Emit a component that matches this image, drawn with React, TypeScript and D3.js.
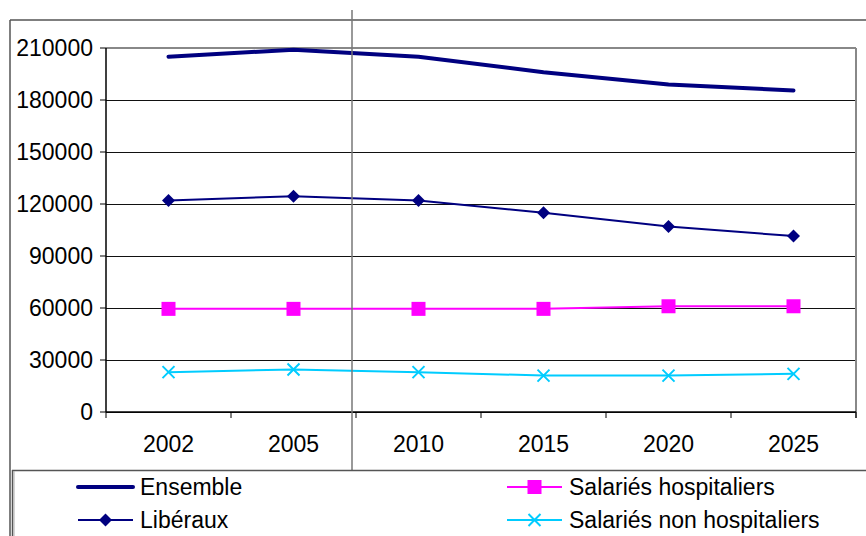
import React from "react";
import * as d3 from "d3";

const years = ["2002", "2005", "2010", "2015", "2020", "2025"];
const ensemble = [205000, 209000, 205000, 196000, 189000, 185500];
const liberaux = [122000, 124500, 122000, 115000, 107000, 101500];
const salariesHosp = [59500, 59500, 59500, 59500, 61000, 61000];
const salariesNonHosp = [23000, 24500, 23000, 21000, 21000, 22000];
const yTicks = [0, 30000, 60000, 90000, 120000, 150000, 180000, 210000];

const W = 866, H = 536;
const left = 106, right = 856, top = 48, bottom = 412;
const FONT = "'Liberation Sans', Arial, sans-serif";
const FS = 23;

export default function App() {
  const x = d3.scaleBand<string>().domain(years).range([left, right]).padding(0);
  const y = d3.scaleLinear().domain([0, 210000]).range([bottom, top]);
  const cx = (d: string) => (x(d) as number) + x.bandwidth() / 2;
  const line = d3.line<number>().x((_, i) => cx(years[i])).y((v) => y(v));

  const navy = "#000080";
  const magenta = "#FF00FF";
  const cyan = "#00CCFF";

  const diamond = (px: number, py: number, s = 6.5) =>
    `M${px},${py - s}L${px + s},${py}L${px},${py + s}L${px - s},${py}Z`;
  const cross = (px: number, py: number, s = 6) =>
    `M${px - s},${py - s}L${px + s},${py + s}M${px - s},${py + s}L${px + s},${py - s}`;

  const tickXs = [...years.map((d) => x(d) as number), right];

  return (
    <svg width={W} height={H} style={{ position: "absolute", left: 0, top: 0, background: "#fff" }} fontFamily={FONT}>
      <rect x={0} y={0} width={W} height={H} fill="#fff" />
      {/* outer chart border */}
      <line x1={10} y1={20} x2={W} y2={20} stroke="#555" strokeWidth={1.5} />
      <line x1={10} y1={20} x2={10} y2={H} stroke="#555" strokeWidth={1.5} />
      {/* gridlines */}
      {yTicks.map((t) => (
        <line key={t} x1={left} x2={right} y1={Math.round(y(t)) + 0.5} y2={Math.round(y(t)) + 0.5} stroke="#111" strokeWidth={1} />
      ))}
      {/* plot area border */}
      <line x1={left} x2={right} y1={top} y2={top} stroke="#888" strokeWidth={2} />
      <line x1={right} x2={right} y1={top} y2={bottom + 6} stroke="#888" strokeWidth={2} />
      {/* axes */}
      <line x1={left} x2={left} y1={top} y2={bottom} stroke="#000" strokeWidth={1.5} />
      <line x1={left} x2={right} y1={bottom} y2={bottom} stroke="#000" strokeWidth={1.5} />
      {yTicks.map((t) => (
        <g key={"yt" + t}>
          <line x1={left - 6} x2={left} y1={y(t)} y2={y(t)} stroke="#000" strokeWidth={1} />
          <text x={93} y={y(t)} dy="0.36em" textAnchor="end" fontSize={FS} fill="#000">{t}</text>
        </g>
      ))}
      {tickXs.map((tx, i) => (
        <line key={"xt" + i} x1={tx} x2={tx} y1={bottom} y2={bottom + 6} stroke="#000" strokeWidth={1} />
      ))}
      {years.map((d) => (
        <text key={"xl" + d} x={cx(d)} y={452} textAnchor="middle" fontSize={FS} fill="#000">{d}</text>
      ))}
      {/* series */}
      <path d={line(ensemble) || ""} fill="none" stroke={navy} strokeWidth={4} strokeLinejoin="round" strokeLinecap="round" />
      <path d={line(liberaux) || ""} fill="none" stroke={navy} strokeWidth={2} />
      {liberaux.map((v, i) => (
        <path key={"d" + i} d={diamond(cx(years[i]), y(v))} fill={navy} />
      ))}
      <path d={line(salariesHosp) || ""} fill="none" stroke={magenta} strokeWidth={2} />
      {salariesHosp.map((v, i) => (
        <rect key={"s" + i} x={cx(years[i]) - 7} y={y(v) - 7} width={14} height={14} fill={magenta} />
      ))}
      <path d={line(salariesNonHosp) || ""} fill="none" stroke={cyan} strokeWidth={2} />
      {salariesNonHosp.map((v, i) => (
        <path key={"c" + i} d={cross(cx(years[i]), y(v))} stroke={cyan} strokeWidth={2} fill="none" />
      ))}
      {/* vertical artifact line */}
      <line x1={352} x2={352} y1={10} y2={470} stroke="#777" strokeWidth={1.5} />
      {/* legend box */}
      <line x1={12} x2={W} y1={470.5} y2={470.5} stroke="#555" strokeWidth={1.5} />
      <line x1={12.5} x2={12.5} y1={470} y2={H} stroke="#555" strokeWidth={1.5} />
      <line x1={14} x2={14} y1={471} y2={H} stroke="#aaa" strokeWidth={1} />
      {/* legend entries */}
      <line x1={78} x2={133} y1={487} y2={487} stroke={navy} strokeWidth={4} strokeLinecap="round" />
      <text x={140} y={487} dy="0.36em" fontSize={FS} fill="#000">Ensemble</text>
      <line x1={78} x2={133} y1={520} y2={520} stroke={navy} strokeWidth={2} />
      <path d={diamond(105.5, 520)} fill={navy} />
      <text x={140} y={520} dy="0.36em" fontSize={FS} fill="#000">Libéraux</text>
      <line x1={507} x2={562} y1={487} y2={487} stroke={magenta} strokeWidth={2} />
      <rect x={527.5} y={480} width={14} height={14} fill={magenta} />
      <text x={569} y={487} dy="0.36em" fontSize={FS} fill="#000">Salariés hospitaliers</text>
      <line x1={507} x2={562} y1={520} y2={520} stroke={cyan} strokeWidth={2} />
      <path d={cross(534.5, 520)} stroke={cyan} strokeWidth={2} fill="none" />
      <text x={569} y={520} dy="0.36em" fontSize={FS} fill="#000">Salariés non hospitaliers</text>
    </svg>
  );
}
